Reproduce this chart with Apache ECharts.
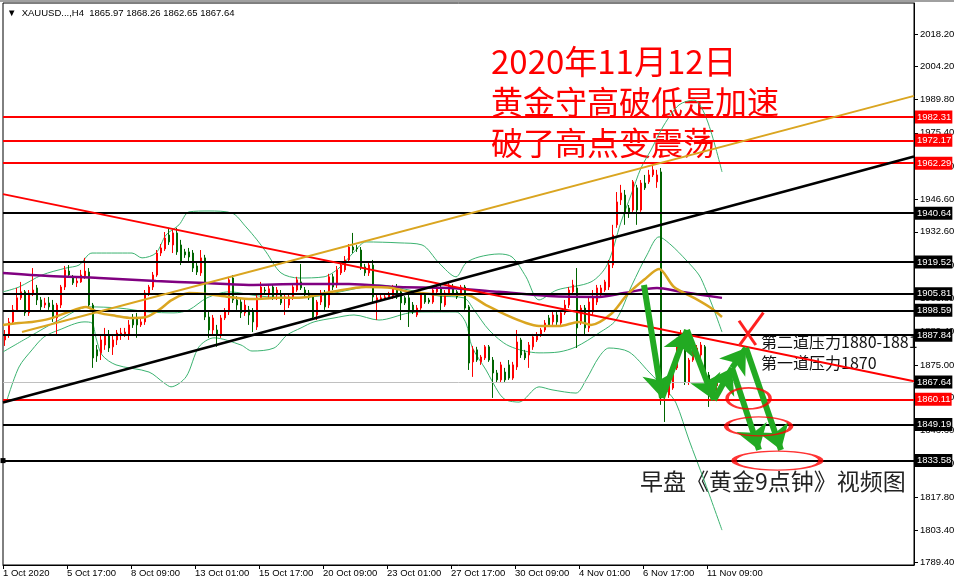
<!DOCTYPE html>
<html>
<head>
<meta charset="utf-8">
<title>XAUUSD H4</title>
<script src="https://cdn.jsdelivr.net/npm/echarts@6/dist/echarts.min.js"></script>
<style>
  html, body { margin: 0; padding: 0; background: #fff; }
  #chart { width: 954px; height: 586px; }
</style>
</head>
<body>
<div id="chart"></div>
<script>
// candles: [open, close, low, high], one per H4 bar
var candles = [
  [1885.8, 1887.9, 1883.2, 1890.1], [1887.9, 1893.6, 1886.7, 1895.3], [1893.6, 1898.8, 1892.3, 1900.9],
  [1898.8, 1904.0, 1897.9, 1908.3], [1904.0, 1906.6, 1903.1, 1910.9], [1906.6, 1897.5, 1896.2, 1907.4],
  [1897.5, 1906.1, 1896.2, 1907.4], [1906.1, 1907.4, 1904.8, 1916.9], [1908.3, 1903.1, 1900.9, 1909.6],
  [1903.1, 1900.1, 1897.9, 1904.4], [1900.9, 1901.8, 1899.6, 1904.0], [1901.8, 1900.1, 1898.8, 1904.4],
  [1900.9, 1895.3, 1893.6, 1903.1], [1895.3, 1900.9, 1887.9, 1901.8], [1900.9, 1908.7, 1899.6, 1909.6],
  [1908.7, 1916.1, 1907.4, 1917.8], [1915.6, 1913.9, 1912.6, 1918.2], [1912.6, 1910.5, 1909.6, 1913.9],
  [1910.5, 1911.3, 1908.7, 1913.1], [1910.9, 1913.9, 1910.5, 1916.1], [1913.5, 1915.6, 1912.2, 1921.3],
  [1915.2, 1900.9, 1899.6, 1916.9], [1900.9, 1878.0, 1873.7, 1901.8], [1881.5, 1878.9, 1876.3, 1883.6],
  [1880.2, 1885.8, 1877.1, 1887.9], [1883.6, 1887.9, 1881.5, 1891.0], [1887.9, 1882.3, 1880.6, 1890.1],
  [1882.8, 1885.8, 1879.3, 1887.9], [1885.8, 1888.8, 1883.6, 1890.1], [1888.4, 1888.8, 1885.8, 1891.0],
  [1888.4, 1889.2, 1887.1, 1891.0], [1887.9, 1892.3, 1885.8, 1894.4], [1895.3, 1892.3, 1891.0, 1897.0],
  [1895.3, 1892.3, 1886.7, 1897.5], [1892.3, 1893.6, 1891.4, 1895.3], [1893.6, 1906.1, 1892.3, 1907.4],
  [1906.1, 1908.7, 1904.8, 1909.6], [1908.7, 1913.9, 1907.4, 1915.2], [1913.9, 1923.4, 1913.1, 1924.7],
  [1923.4, 1925.6, 1922.1, 1927.3], [1925.2, 1929.9, 1924.3, 1932.5], [1931.2, 1928.2, 1926.9, 1934.3],
  [1926.9, 1932.1, 1923.4, 1933.4], [1932.1, 1923.9, 1922.6, 1934.3], [1926.9, 1919.5, 1918.2, 1929.1],
  [1923.9, 1922.6, 1921.3, 1925.2], [1923.9, 1921.7, 1919.5, 1925.6], [1923.4, 1916.9, 1915.2, 1924.7],
  [1917.8, 1915.2, 1913.9, 1919.1], [1914.8, 1921.3, 1913.5, 1924.7], [1921.3, 1895.7, 1894.4, 1922.6],
  [1895.7, 1890.1, 1886.7, 1897.9], [1890.1, 1895.3, 1887.9, 1896.6], [1890.1, 1887.9, 1882.8, 1892.3],
  [1887.9, 1895.3, 1886.7, 1896.6], [1895.3, 1897.9, 1894.4, 1899.6], [1897.9, 1911.8, 1896.6, 1913.1],
  [1912.6, 1903.1, 1901.8, 1913.9], [1903.1, 1900.9, 1898.8, 1904.8], [1902.2, 1897.5, 1895.3, 1903.5],
  [1897.5, 1900.9, 1896.2, 1903.1], [1898.8, 1896.6, 1892.3, 1900.5], [1897.9, 1893.6, 1889.2, 1899.6],
  [1891.4, 1904.0, 1890.1, 1905.7], [1904.0, 1908.7, 1903.1, 1910.9], [1907.4, 1907.0, 1906.1, 1908.7],
  [1905.3, 1907.9, 1904.0, 1909.6], [1908.7, 1904.4, 1903.1, 1910.0], [1905.3, 1907.4, 1903.1, 1908.7],
  [1905.3, 1901.8, 1900.9, 1907.4], [1904.0, 1904.4, 1896.6, 1906.1], [1900.9, 1904.4, 1899.6, 1905.7],
  [1904.0, 1908.7, 1903.1, 1909.6], [1907.4, 1911.8, 1906.6, 1913.1], [1910.9, 1908.3, 1907.4, 1918.7],
  [1907.4, 1905.3, 1904.4, 1908.7], [1906.1, 1904.0, 1903.1, 1907.4], [1904.4, 1895.7, 1894.4, 1905.7],
  [1896.6, 1902.2, 1894.4, 1903.1], [1902.2, 1906.1, 1900.9, 1907.4], [1906.1, 1900.1, 1898.8, 1907.4],
  [1900.9, 1913.1, 1899.6, 1914.4], [1913.1, 1908.7, 1907.4, 1914.4], [1909.6, 1916.1, 1908.3, 1917.8],
  [1914.8, 1918.2, 1913.9, 1919.5], [1916.1, 1920.4, 1915.2, 1922.1], [1920.4, 1926.0, 1919.5, 1927.3],
  [1926.0, 1924.7, 1923.4, 1932.1], [1925.6, 1925.2, 1923.9, 1926.9], [1924.7, 1917.4, 1916.1, 1926.0],
  [1917.4, 1914.8, 1913.5, 1918.7], [1914.8, 1918.2, 1913.5, 1919.5], [1918.2, 1904.4, 1901.8, 1920.4],
  [1903.1, 1904.0, 1894.4, 1905.3], [1903.5, 1904.0, 1902.7, 1905.3], [1904.0, 1904.4, 1903.1, 1905.7],
  [1904.4, 1905.3, 1903.5, 1906.6], [1904.4, 1908.3, 1903.5, 1909.6], [1908.7, 1904.4, 1903.5, 1910.0],
  [1906.6, 1901.8, 1894.4, 1907.9], [1904.0, 1901.8, 1900.9, 1904.8], [1904.0, 1897.9, 1891.4, 1905.3],
  [1900.9, 1897.9, 1897.0, 1902.2], [1896.6, 1899.6, 1895.7, 1900.9], [1899.6, 1905.3, 1898.8, 1906.6],
  [1905.3, 1902.2, 1901.4, 1906.1], [1903.1, 1902.2, 1901.4, 1904.0], [1902.2, 1907.4, 1901.4, 1908.7],
  [1906.6, 1908.3, 1905.7, 1909.6], [1908.3, 1901.8, 1897.9, 1909.6], [1900.9, 1906.1, 1900.1, 1907.4],
  [1906.1, 1909.6, 1905.3, 1910.5], [1908.7, 1906.1, 1905.3, 1910.0], [1906.6, 1904.4, 1903.5, 1907.4],
  [1906.1, 1908.7, 1905.3, 1909.6], [1908.7, 1899.6, 1898.8, 1909.6], [1900.1, 1875.8, 1872.8, 1900.9],
  [1876.3, 1881.5, 1869.8, 1883.2], [1881.5, 1877.1, 1876.3, 1882.8], [1876.3, 1878.4, 1875.0, 1879.3],
  [1878.0, 1882.8, 1877.1, 1883.6], [1882.8, 1877.1, 1876.3, 1883.6], [1877.1, 1871.5, 1860.7, 1878.4],
  [1871.5, 1868.5, 1867.2, 1872.8], [1868.5, 1875.0, 1867.2, 1876.3], [1871.9, 1868.5, 1867.6, 1873.7],
  [1875.0, 1869.3, 1868.5, 1877.1], [1869.3, 1875.0, 1868.5, 1876.3], [1874.1, 1884.9, 1872.8, 1890.1],
  [1885.8, 1879.3, 1878.0, 1886.7], [1880.2, 1878.0, 1877.1, 1881.5], [1879.3, 1883.6, 1873.7, 1884.9],
  [1882.8, 1887.1, 1881.5, 1888.4], [1885.8, 1887.9, 1884.9, 1889.2], [1887.9, 1890.1, 1887.1, 1891.0],
  [1890.1, 1893.1, 1889.2, 1894.4], [1895.3, 1892.3, 1891.4, 1896.6], [1893.6, 1896.6, 1892.3, 1897.9],
  [1896.6, 1893.6, 1892.3, 1897.9], [1893.1, 1897.5, 1892.3, 1898.8], [1897.5, 1900.9, 1896.6, 1903.1],
  [1900.9, 1907.4, 1899.6, 1908.7], [1906.6, 1909.6, 1905.7, 1911.8], [1908.3, 1891.0, 1882.3, 1916.9],
  [1893.6, 1899.6, 1892.3, 1900.9], [1899.6, 1891.0, 1887.9, 1900.9], [1891.0, 1902.2, 1889.2, 1904.0],
  [1897.9, 1904.0, 1896.6, 1907.4], [1902.2, 1908.3, 1900.9, 1909.6], [1905.3, 1908.3, 1904.4, 1909.6],
  [1907.4, 1910.9, 1906.6, 1911.8], [1908.7, 1918.2, 1907.4, 1920.4], [1918.2, 1931.2, 1916.9, 1935.6],
  [1935.6, 1945.5, 1934.3, 1949.8], [1946.4, 1949.4, 1944.2, 1952.9], [1948.5, 1941.2, 1935.6, 1950.7],
  [1942.9, 1941.2, 1938.6, 1944.2], [1942.0, 1954.2, 1941.2, 1955.0], [1951.6, 1942.0, 1935.6, 1952.9],
  [1942.0, 1953.7, 1941.2, 1955.0], [1953.7, 1951.6, 1950.7, 1957.2], [1954.2, 1957.2, 1953.3, 1959.4],
  [1957.2, 1959.4, 1956.3, 1961.5], [1954.2, 1957.2, 1951.6, 1959.4], [1958.5, 1860.7, 1857.7, 1960.2],
  [1865.0, 1862.0, 1850.3, 1866.3], [1862.0, 1866.3, 1860.7, 1868.5], [1865.0, 1873.7, 1864.2, 1875.0],
  [1873.7, 1884.9, 1872.8, 1886.7], [1883.6, 1886.7, 1882.3, 1890.1], [1882.3, 1867.6, 1866.3, 1883.6],
  [1867.6, 1877.1, 1866.3, 1878.0], [1877.1, 1880.6, 1876.3, 1882.3], [1878.0, 1882.3, 1877.1, 1883.6],
  [1879.3, 1883.6, 1875.0, 1884.9], [1882.8, 1871.9, 1870.6, 1883.6], [1870.6, 1862.0, 1856.8, 1871.9],
  [1863.3, 1865.9, 1862.0, 1868.5], [1865.97, 1867.64, 1862.65, 1868.26]
]

// indicator lines: [bar position, price]
var maGold = [
  [0, 1892.3], [4, 1893.1], [7.25, 1893.6], [11.5, 1894.9], [15.75, 1897.5], [20.75, 1900.1], [24, 1897.5],
  [28.25, 1896.2], [32.25, 1895.3], [35.75, 1895.7], [39, 1898.8], [42.25, 1903.1], [46.5, 1906.1],
  [50.75, 1905.7], [56.5, 1904.4], [62.25, 1903.5], [69, 1904.0], [74, 1904.0], [82.25, 1906.6],
  [90.75, 1908.7], [97.25, 1908.3], [101.5, 1906.6], [111.5, 1905.3], [115.75, 1905.3], [120.75, 1900.9],
  [125.75, 1896.6], [130.75, 1893.1], [134, 1891.8], [139, 1891.8], [144, 1893.6], [147, 1892.3],
  [152, 1897.0], [156, 1905.3], [160.25, 1911.8], [164, 1916.5], [167.75, 1908.7], [172.75, 1904.0],
  [177, 1899.6], [179.75, 1895.7]
]
var maPurple = [
  [0, 1914.8], [11.5, 1913.5], [24, 1912.6], [38.25, 1911.3], [49, 1910.5], [61.5, 1909.6], [74, 1910.0],
  [86.5, 1910.0], [99, 1908.7], [111.5, 1908.3], [124, 1906.6], [136.5, 1904.8], [149, 1904.4],
  [155.25, 1906.1], [163.5, 1908.3], [169.5, 1906.6], [179.75, 1904.0]
]
var bandUpper = [
  [0, 1906.6], [4, 1908.7], [9.75, 1913.9], [15.75, 1916.9], [19, 1918.2], [22.25, 1923.4], [32.25, 1923.4],
  [34.75, 1921.3], [38.25, 1923.4], [40.75, 1931.2], [44, 1935.6], [46.5, 1941.2], [51.5, 1941.6],
  [57.25, 1940.7], [60.75, 1934.7], [63.5, 1929.1], [65.75, 1923.9], [69.5, 1914.8], [74, 1912.6],
  [80.25, 1913.1], [84, 1916.9], [87.75, 1923.9], [90.75, 1928.2], [99, 1927.8], [104.75, 1926.9],
  [109, 1919.1], [113.25, 1913.1], [115.75, 1919.1], [119, 1921.7], [124, 1923.0], [127.25, 1921.7],
  [130.75, 1913.1], [134, 1903.1], [138.5, 1907.4], [147, 1910.9], [151, 1918.2], [154.5, 1936.8],
  [157, 1948.5], [159.5, 1960.2], [162, 1968.0], [165.25, 1978.8], [169, 1987.5], [172.75, 1989.6],
  [176, 1981.0], [179.75, 1958.5]
]
var bandMiddle = [
  [0, 1880.6], [6.5, 1887.1], [14, 1894.4], [21.5, 1900.1], [29, 1899.6], [36.5, 1897.9], [42.75, 1897.5],
  [46.5, 1898.8], [51, 1904.0], [56.5, 1906.6], [64, 1904.8], [71.5, 1904.0], [79, 1904.8], [86.5, 1907.4],
  [94, 1909.6], [101.5, 1907.4], [109, 1904.8], [115.25, 1904.0], [117.75, 1898.8], [121.5, 1890.1],
  [126.5, 1883.2], [134, 1880.2], [139, 1880.6], [143.25, 1882.8], [149, 1888.8], [153.25, 1894.4],
  [157.25, 1909.6], [161, 1922.6], [164, 1930.4], [167, 1926.9], [170.75, 1920.4], [174, 1913.9],
  [175.75, 1907.4], [177.75, 1898.8], [179.75, 1889.2]
]
var bandLower = [
  [1, 1859.8], [4, 1874.1], [7.25, 1881.5], [10.25, 1887.1], [14, 1890.1], [20.25, 1893.6], [22.25, 1893.1],
  [23.25, 1886.7], [24.75, 1879.3], [28.25, 1875.0], [36.5, 1871.9], [40.25, 1867.2], [42, 1865.5],
  [45.75, 1869.8], [49, 1882.8], [52.75, 1886.7], [59.5, 1883.6], [62.25, 1881.0], [67.75, 1882.3],
  [71, 1887.9], [74.5, 1891.0], [77.75, 1893.6], [82.75, 1895.3], [87.75, 1896.6], [94, 1894.4],
  [101.5, 1897.5], [105.75, 1897.9], [113.25, 1897.9], [115.75, 1893.1], [117.25, 1882.8], [120.75, 1872.8],
  [124, 1862.8], [125.75, 1859.8], [129, 1858.9], [134, 1865.5], [137.25, 1864.2], [143.25, 1862.8],
  [145.75, 1868.5], [149, 1878.4], [151.5, 1882.3], [156.5, 1880.6], [161.5, 1871.9], [165.75, 1864.2],
  [168.25, 1858.5], [171.5, 1842.5], [175.25, 1825.2], [179.75, 1803.5]
]

// horizontal price levels
var redLevels = [1982.31, 1972.17, 1962.29, 1860.11]
var blackLevels = [1940.64, 1919.52, 1905.81, 1898.59, 1887.84, 1849.19]
var pinnedLevel = 1833.58
var lastPrice = 1867.64

// trend lines [[bar, price], [bar, price]]
var redTrend = [[0, 1948.9], [227.75, 1867.9]]
var goldTrend = [[4.75, 1889.2], [227.75, 1991.4]]
var blackTrend = [[0, 1858.7], [227.75, 1965.2]]

// hand drawn marks
var arrowPaths = [
  [[160.25, 1909.6], [164.75, 1860.7]],
  [[164.75, 1860.7], [171, 1890.1]],
  [[171, 1890.1], [177.75, 1859.8]],
  [[177.75, 1859.8], [182.25, 1873.7]],
  [[182.25, 1873.7], [185.75, 1882.3]],
  [[182.25, 1873.7], [189, 1838.2]],
  [[185.75, 1882.3], [194.5, 1838.2]]
]
var crossStrokes = [
  [[184, 1894.1], [188.2, 1883.6]],
  [[190.1, 1897.6], [184, 1883.2]]
]
var ellipseCenters = [[186.4, 1860.5], [188.9, 1848.4], [193.6, 1833.6]]

var xTickLabels = ['1 Oct 2020', '5 Oct 17:00', '8 Oct 09:00', '13 Oct 01:00', '15 Oct 17:00', '20 Oct 09:00',
  '23 Oct 01:00', '27 Oct 17:00', '30 Oct 09:00', '4 Nov 01:00', '6 Nov 17:00', '11 Nov 09:00']
var yTickValues = [1789.4, 1803.4, 1817.8, 1832.2, 1846.6, 1861.0, 1875.0, 1889.4, 1903.8, 1918.2,
  1932.6, 1946.6, 1961.0, 1975.4, 1989.8, 2004.2, 2018.2]

var BARS_PER_LABEL = 16
var xTickValues = xTickLabels.map(function(_, k) { return k * BARS_PER_LABEL })
var axisFont = 'Liberation Sans'
var cjkFont = 'Noto Sans CJK SC'

function levelLine(value, color, width, boxColor) {
  return {
    yAxis: value,
    lineStyle: { color: color, width: width, type: 'solid' },
    label: {
      show: true,
      position: 'end',
      distance: 1,
      formatter: value.toFixed(2),
      color: '#fff',
      backgroundColor: boxColor,
      padding: [2, 1, 1, 2],
      fontSize: 9.5,
      lineHeight: 10,
      fontFamily: axisFont
    }
  }
}

function segment(path, color, width) {
  return [
    { coord: path[0], lineStyle: { color: color, width: width, type: 'solid' } },
    { coord: path[1] }
  ]
}

function bandSeries(name, data) {
  return {
    name: name,
    type: 'line',
    data: data,
    showSymbol: false,
    smooth: 0.3,
    lineStyle: { color: '#3cb371', width: 1 },
    z: 2
  }
}

var levelData = []
redLevels.forEach(function(v) { levelData.push(levelLine(v, '#ff0000', 2, '#ff0000')) })
blackLevels.forEach(function(v) { levelData.push(levelLine(v, '#000', 2, '#000')) })
var pinned = levelLine(pinnedLevel, '#000', 2, '#000')
pinned.symbol = ['emptyRect', 'emptyRect']
pinned.symbolSize = 5
levelData.push(pinned)
levelData.push(levelLine(lastPrice, '#c0c0c0', 1, '#000'))

var chart = echarts.init(document.getElementById('chart'), null, { renderer: 'canvas' })

chart.setOption({
  animation: false,
  backgroundColor: '#fff',
  grid: {
    left: 3, right: 40, top: 3, bottom: 21,
    outerBoundsMode: 'none',
    containLabel: false,
    show: true, borderColor: '#000', borderWidth: 1
  },
  xAxis: {
    type: 'value',
    min: 0,
    max: 227.75,
    axisLine: { show: true, onZero: false, lineStyle: { color: '#000', width: 1 } },
    axisTick: { show: true, length: 4, customValues: xTickValues, lineStyle: { color: '#000' } },
    axisLabel: {
      customValues: xTickValues,
      formatter: function(v) { return xTickLabels[Math.round(v / BARS_PER_LABEL)] || '' },
      align: 'left',
      margin: 3,
      color: '#000',
      fontSize: 9.5,
      fontFamily: axisFont
    },
    splitLine: { show: false }
  },
  yAxis: {
    type: 'value',
    position: 'right',
    min: 1788.4,
    max: 2031.6,
    axisLine: { show: true, onZero: false, lineStyle: { color: '#000', width: 1 } },
    axisTick: { show: true, length: 4, customValues: yTickValues, lineStyle: { color: '#000' } },
    axisLabel: {
      customValues: yTickValues,
      formatter: function(v) { return v.toFixed(2) },
      margin: 6,
      color: '#000',
      fontSize: 9.5,
      fontFamily: axisFont
    },
    splitLine: { show: false }
  },
  series: [
    bandSeries('upper', bandUpper),
    bandSeries('middle', bandMiddle),
    bandSeries('lower', bandLower),
    {
      name: 'XAUUSD',
      type: 'candlestick',
      data: candles.map(function(c, i) { return [i + 0.5, c[0], c[1], c[2], c[3]] }),
      encode: { x: 0, y: [1, 2, 3, 4] },
      barWidth: 2,
      itemStyle: {
        color: '#ff0000',
        color0: '#006400',
        borderColor: '#ff0000',
        borderColor0: '#006400',
        borderWidth: 1
      },
      z: 3,
      markLine: {
        silent: true,
        symbol: ['none', 'none'],
        animation: false,
        label: { show: false },
        data: levelData
      }
    },
    {
      name: 'ma slow',
      type: 'line',
      data: maPurple,
      showSymbol: false,
      smooth: 0.3,
      lineStyle: { color: '#800080', width: 2.5 },
      z: 4
    },
    {
      name: 'ma fast',
      type: 'line',
      data: maGold,
      showSymbol: false,
      smooth: 0.3,
      lineStyle: { color: '#daa520', width: 2.5 },
      z: 4,
      markLine: {
        silent: true,
        symbol: ['none', 'none'],
        animation: false,
        label: { show: false },
        data: [
          segment(redTrend, '#ff0000', 2),
          segment(goldTrend, '#daa520', 2),
          segment(blackTrend, '#000', 2.5)
        ]
      }
    },
    {
      name: 'marks',
      type: 'scatter',
      data: ellipseCenters.map(function(c, k) {
        return { value: c, symbolSize: [[43, 21], [65, 19], [87, 19]][k] }
      }),
      symbol: 'circle',
      itemStyle: { color: 'rgba(0,0,0,0)', borderColor: '#ff0000', borderWidth: 2.5 },
      z: 6,
      markLine: {
        silent: true,
        symbol: ['none', 'none'],
        animation: false,
        label: { show: false },
        data: crossStrokes.map(function(p) { return segment(p, '#ff2020', 3) })
      }
    },
    {
      name: 'arrows',
      type: 'line',
      data: [arrowPaths[0][0]],
      showSymbol: false,
      lineStyle: { width: 0 },
      z: 7,
      markLine: {
        silent: true,
        symbol: ['none', 'arrow'],
        symbolSize: 24,
        animation: false,
        label: { show: false },
        data: arrowPaths.map(function(p) { return segment(p, '#22aa22', 6) })
      }
    }
  ],
  graphic: [
    { type: 'rect', left: 0, top: 0, shape: { width: 954, height: 2 }, style: { fill: '#a0a0a0' } },
    {
      type: 'text', left: 7, top: 8,
      style: { text: '\u25BC  XAUUSD...,H4  1865.97 1868.26 1862.65 1867.64', fill: '#000', fontSize: 9.5, fontFamily: axisFont }
    },
    {
      type: 'text', left: 491, top: 45,
      style: { text: '2020年11月12日', fill: '#ff0000', fontSize: 33, fontFamily: cjkFont }
    },
    {
      type: 'text', left: 491, top: 86,
      style: { text: '黄金守高破低是加速', fill: '#ff0000', fontSize: 32, fontFamily: cjkFont }
    },
    {
      type: 'text', left: 491, top: 127,
      style: { text: '破了高点变震荡', fill: '#ff0000', fontSize: 32, fontFamily: cjkFont }
    },
    {
      type: 'text', left: 761, top: 334,
      style: { text: '第二道压力1880-1881', fill: '#111', fontSize: 16, fontFamily: cjkFont }
    },
    {
      type: 'text', left: 761, top: 355,
      style: { text: '第一道压力1870', fill: '#111', fontSize: 16, fontFamily: cjkFont }
    },
    {
      type: 'text', left: 640, top: 470,
      style: { text: '早盘《黄金9点钟》视频图', fill: '#222', fontSize: 23, fontFamily: cjkFont }
    }
  ]
})
</script>
</body>
</html>
